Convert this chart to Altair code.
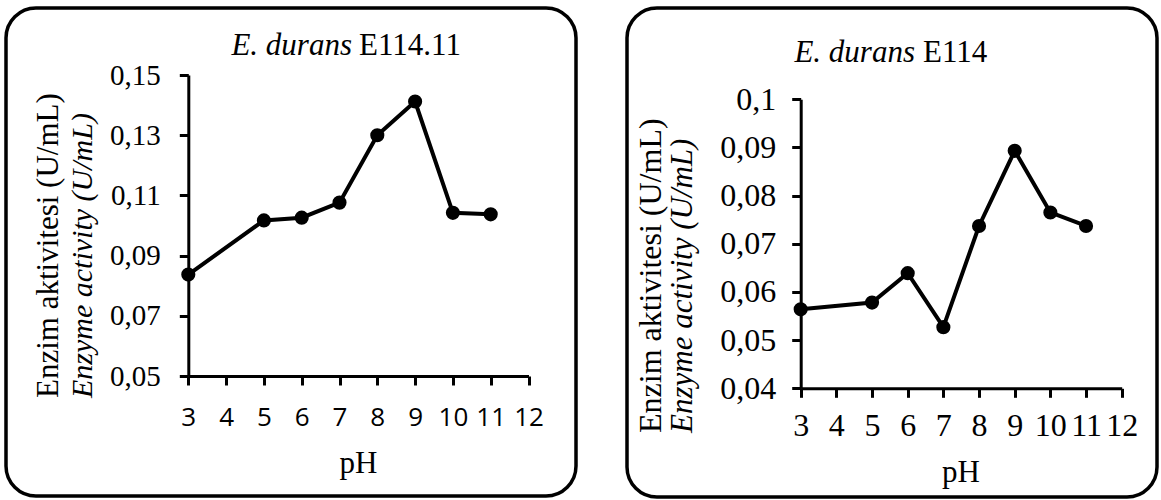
import altair as alt
import pandas as pd

# ---- data ----
ph_left = [3, 5, 6, 7, 8, 9, 10, 11]
act_left = [0.0837, 0.1017, 0.1026, 0.1076, 0.1300, 0.1412, 0.1042, 0.1037]

ph_right = [3, 5, 6, 7, 8, 9, 10, 11]
act_right = [0.0564, 0.0578, 0.0639, 0.0527, 0.0737, 0.0893, 0.0765, 0.0737]

x_ticks = [3, 4, 5, 6, 7, 8, 9, 10, 11, 12]
left_y_ticks = [0.05, 0.07, 0.09, 0.11, 0.13, 0.15]
right_y_ticks = [0.04, 0.05, 0.06, 0.07, 0.08, 0.09, 0.10]

title_left = ["E. durans", "E114.11"]
title_right = ["E. durans", "E114"]
ytitle = ["Enzim aktivitesi (U/mL)", "Enzyme activity (U/mL)"]
xtitle = "pH"

W, H = 1161, 500
SERIF = "Liberation Serif"
LABEL_EXPR = "replace(format(datum.value, '~g'), '.', ',')"


def panel(ph, act, xr, yr, yticks, ydomain, ylab_size, ylab_pad, xlab_font,
          xlab_size, xlab_pad):
    df = pd.DataFrame({"pH": ph, "act": act})
    x = alt.X(
        "pH:Q",
        scale=alt.Scale(domain=[3, 12], range=xr, nice=False, zero=False),
        axis=alt.Axis(
            values=x_ticks, title=None, orient="bottom", offset=-(H - yr[0]),
            labelFont=xlab_font, labelFontSize=xlab_size, labelPadding=xlab_pad,
            labelBaseline="middle", labelFlush=False, labelOverlap=False,
            tickSize=9, grid=False,
        ),
    )
    y = alt.Y(
        "act:Q",
        scale=alt.Scale(domain=ydomain, range=yr, nice=False, zero=False),
        axis=alt.Axis(
            values=yticks, title=None, orient="left", offset=-xr[0],
            labelExpr=LABEL_EXPR, labelFont=SERIF, labelFontSize=ylab_size,
            labelPadding=ylab_pad, labelFlush=False, labelOverlap=False,
            tickSize=9, grid=False,
        ),
    )
    base = alt.Chart(df).encode(x=x, y=y)
    line = base.mark_line(color="black", strokeWidth=4)
    pts = base.mark_point(filled=True, size=200, color="black", opacity=1)
    return line + pts


one = pd.DataFrame({"a": [0]})


def txt(s, x, y, size, style="normal", align="center", angle=0,
        baseline="alphabetic", font=SERIF):
    return alt.Chart(one).mark_text(
        text=s, fontSize=size, fontStyle=style, align=align, angle=angle,
        baseline=baseline, font=font, color="black",
    ).encode(x=alt.value(x), y=alt.value(y))


def box(x0, x1, y0, y1):
    return alt.Chart(one).mark_rect(
        cornerRadius=30, fill="white", fillOpacity=0, stroke="black",
        strokeWidth=3.5,
    ).encode(x=alt.value(x0), x2=alt.value(x1), y=alt.value(y0),
             y2=alt.value(y1))


left = panel(ph_left, act_left, [188.3, 528.5], [376.0, 75.0], left_y_ticks,
             [0.05, 0.15], 29, 19, "Open Sans", 26, 32)
right = panel(ph_right, act_right, [800.7, 1121.7], [388.3, 99.3],
              right_y_ticks, [0.04, 0.10], 32, 16, SERIF, 32, 28)

texts = [
    # left panel
    txt(title_left[0], 352, 55, 31, style="italic", align="right"),
    txt(title_left[1], 359, 55, 31, align="left"),
    txt(ytitle[0], 58, 398, 31, align="left", angle=270),
    txt(ytitle[1], 92, 398, 30, style="italic", align="left", angle=270),
    txt(xtitle, 358.4, 473, 31),
    # right panel
    txt(title_right[0], 915, 61.7, 31, style="italic", align="right"),
    txt(title_right[1], 923, 61.7, 31, align="left"),
    txt(ytitle[0], 661, 433, 32, align="left", angle=270),
    txt(ytitle[1], 692, 433, 31, style="italic", align="left", angle=270),
    txt(xtitle, 961, 482, 31),
]

chart = alt.layer(
    box(6, 576, 8, 496),
    box(627, 1157, 8, 497),
    left,
    right,
    *texts,
).resolve_scale(
    x="independent", y="independent"
).properties(
    width=W, height=H, padding=0,
    autosize=alt.AutoSizeParams(type="none"),
    background="white",
).configure_view(
    strokeWidth=0
).configure_axis(
    domainColor="black", domainWidth=3, tickColor="black", tickWidth=3,
    labelColor="black",
)

chart.save("out.html", embed_options={"renderer": "svg", "actions": False})
